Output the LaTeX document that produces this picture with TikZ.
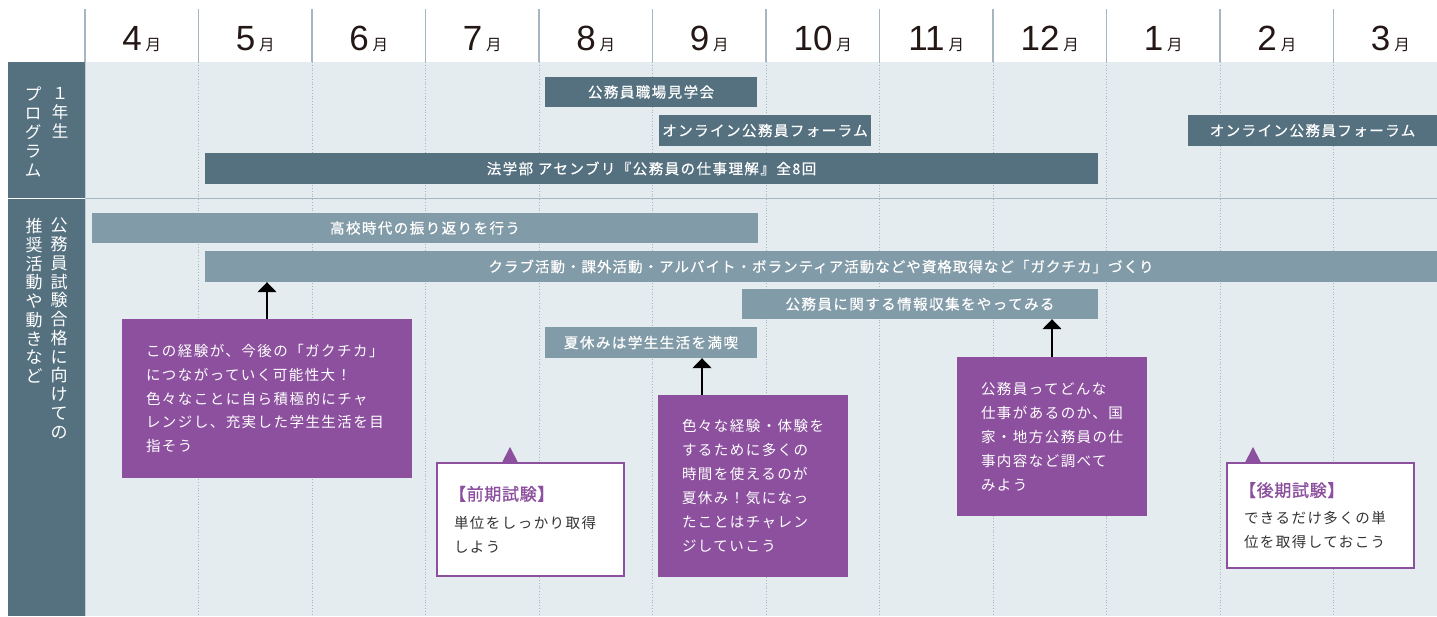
\documentclass[tikz,border=0pt]{standalone}
\usepackage{fontspec}
\usetikzlibrary{arrows.meta,calc}
\newfontfamily\jp[LetterSpace=10]{Noto Sans CJK JP}
\newfontfamily\jpb[LetterSpace=10,FakeBold=0.6]{Noto Sans CJK JP}
\newfontfamily\jpbt[LetterSpace=7,FakeBold=0.6]{Noto Sans CJK JP}
\newfontfamily\jph[LetterSpace=4,FakeBold=1]{Noto Sans CJK JP}
\newfontfamily\jpv{Noto Sans CJK JP}
\newfontfamily\digitf{Liberation Sans}
\XeTeXlinebreaklocale "ja"
\XeTeXlinebreakskip=0pt plus 4pt
\definecolor{hdrline}{HTML}{A5B6C1}
\definecolor{bodybg}{HTML}{E5ECF0}
\definecolor{darkbar}{HTML}{557180}
\definecolor{lightbar}{HTML}{829BA8}
\definecolor{calloutp}{HTML}{8C509E}
\definecolor{hdrtext}{HTML}{231815}
\definecolor{wtext}{HTML}{333333}
\newcommand\cfont{\jp\fontsize{14.5}{24}\selectfont}
\newcommand\cfonta{\jp\fontsize{14.5}{23.7}\selectfont}
\newcommand\bfont{\jpb\fontsize{14.5}{24}\selectfont}
\newcommand\jl[2]{\makebox[#1pt][s]{#2}}
\newcommand\boxat[7]{\node[#2, minimum width={(#5-#3)*1pt}, minimum height={(#6-#4)*1pt}] (#1) at ({(#3+#5)/2},{(#4+#6)/2}) {#7};}
\tikzset{
  bara/.style={fill=darkbar, text=white, inner sep=0pt, font=\bfont},
  barb/.style={fill=lightbar, text=white, inner sep=0pt, font=\bfont},
  pbox/.style={fill=calloutp, text=white, align=left, inner sep=0pt, font=\cfont},
  pboxa/.style={fill=calloutp, text=white, align=left, inner sep=0pt, font=\cfonta},
  wbox/.style={fill=white, draw=calloutp, line width=2pt, text=wtext, align=left, inner sep=0pt, font=\cfont},
  arr/.style={line width=1.5pt, draw=black, -{Triangle[width=19pt,length=10pt]}},
  vlab/.style={text=white, align=center, inner sep=0pt, anchor=north},
  month/.style={text=hdrtext, inner sep=0pt, anchor=base},
  dotline/.style={draw=hdrline, line width=0.8pt, dotted},
  hline/.style={draw=hdrline, line width=1.2pt},
}
\begin{document}
\begin{tikzpicture}[x=1pt,y=-1pt]
\useasboundingbox (0,0) rectangle (1437,616);
\fill[white] (0,0) rectangle (1437,616);
% body background
\fill[bodybg] (85,62) rectangle (1437,616);
% left column
\fill[darkbar] (8,62) rectangle (85,616);
\draw[white, line width=1.5pt] (8,198.5) -- (85,198.5);
\draw[hdrline, line width=1.5pt] (85,198.5) -- (1437,198.5);
\draw[hdrline!70!white, line width=1pt] (85,62) -- (85,616);
% header and grid lines
\foreach \k in {0,...,11} {
  \draw[hline] ({85+113.5*\k},9) -- ({85+113.5*\k},62);
}
\foreach \k in {1,...,11} {
  \draw[dotline] ({85+113.5*\k},62) -- ({85+113.5*\k},616);
}
% months
\foreach \m [count=\i from 0] in {4,5,6,7,8,9,10,11,12,1,2,3} {
  \node[month] (m\i) at ({85+113.5*(\i+0.5)},50) {{\digitf\fontsize{35}{35}\selectfont \m}\hspace{4pt}{\jpv\fontsize{15.5}{15.5}\selectfont 月}};
}
% left labels
\node[vlab, font={\jpv\fontsize{16.5}{19}\selectfont}] (la) at (60,87) {１\\年\\生};
\node[vlab, font={\jpv\fontsize{16.5}{19}\selectfont}] (lb) at (33,87) {プ\\ロ\\グ\\ラ\\ム};
\node[vlab, font={\jpv\fontsize{17}{18.75}\selectfont}] (lc) at (59,218) {公\\務\\員\\試\\験\\合\\格\\に\\向\\け\\て\\の};
\node[vlab, font={\jpv\fontsize{17}{18.75}\selectfont}] (ld) at (34,218) {推\\奨\\活\\動\\や\\動\\き\\な\\ど};
% section 1 bars
\boxat{s1}{bara}{545}{77}{757}{107}{公務員職場見学会}
\boxat{s2}{bara}{659}{115}{871}{146}{オンライン公務員フォーラム}
\boxat{s3}{bara}{205}{153}{1098}{184}{法学部 アセンブリ『公務員の仕事理解』全8回}
\boxat{s4}{bara}{1188}{115}{1437}{146}{オンライン公務員フォーラム}
% section 2 bars
\boxat{t1}{barb}{92}{213}{758}{243}{高校時代の振り返りを行う}
\boxat{t2}{barb}{205}{251}{1437}{282}{\jpbt クラブ活動・課外活動・アルバイト・ボランティア活動などや資格取得など「ガクチカ」づくり}
\boxat{t3}{barb}{742}{289}{1098}{319}{公務員に関する情報収集をやってみる}
\boxat{t4}{barb}{545}{327}{757}{358}{夏休みは学生生活を満喫}
% callouts
\boxat{c1}{pboxa}{122}{319}{412}{478}{\jl{242}{この経験が、今後の「ガクチカ」}\\につながっていく可能性大！\\\jl{242}{色々なことに自ら積極的にチャ}\\\jl{242}{レンジし、充実した学生生活を目}\\指そう}
\boxat{c2}{pbox}{658}{395}{848}{577}{\jl{142}{色々な経験・体験を}\\\jl{142}{するために多くの}\\\jl{142}{時間を使えるのが}\\\jl{142}{夏休み！気になっ}\\\jl{142}{たことはチャレン}\\ジしていこう}
\boxat{c3}{pbox}{957}{357}{1147}{516}{\jl{142}{公務員ってどんな}\\\jl{142}{仕事があるのか、国}\\\jl{142}{家・地方公務員の仕}\\\jl{142}{事内容など調べて}\\みよう}
\boxat{w1}{wbox}{437}{463}{624}{576}{\hspace{-5pt}{\color{calloutp}\jph\fontsize{17}{24}\selectfont 【前期試験】}\\[4pt]\jl{153}{単位をしっかり取得}\\しよう}
\boxat{w2}{wbox}{1227}{463}{1414}{568}{\hspace{-5pt}{\color{calloutp}\jph\fontsize{17}{24}\selectfont 【後期試験】}\\[3pt]\jl{153}{できるだけ多くの単}\\位を取得しておこう}
% arrows
\coordinate (a1) at (267,0);
\coordinate (a2) at (702,0);
\coordinate (a3) at (1052,0);
\draw[arr] (a1 |- c1.north) -- (a1 |- t2.south);
\draw[arr] (a2 |- c2.north) -- (a2 |- t4.south);
\draw[arr] (a3 |- c3.north) -- (a3 |- t3.south);
% triangles on white boxes
\coordinate (p1) at (510,0);
\coordinate (p2) at (1253,0);
\fill[calloutp] ($(p1 |- w1.north)+(-8,0.5)$) -- ($(p1 |- w1.north)+(8,0.5)$) -- ($(p1 |- w1.north)+(0,-15)$) -- cycle;
\fill[calloutp] ($(p2 |- w2.north)+(-8,0.5)$) -- ($(p2 |- w2.north)+(8,0.5)$) -- ($(p2 |- w2.north)+(0,-15)$) -- cycle;
\end{tikzpicture}
\end{document}
